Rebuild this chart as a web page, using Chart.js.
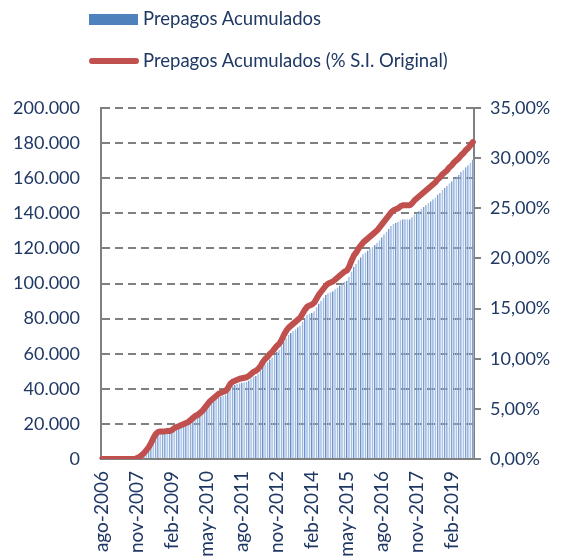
<!DOCTYPE html>
<html>
<head>
<meta charset="utf-8">
<script src="https://cdn.jsdelivr.net/npm/chart.js@4.4.1/dist/chart.umd.min.js"></script>
<style>
html,body{margin:0;padding:0;background:#fff;}
#wrap{position:relative;width:561px;height:559px;}
canvas{position:absolute;left:0;top:0;}
.leg{position:absolute;left:0;font-family:Lato,"Open Sans",sans-serif;font-size:18.5px;color:#1F3864;white-space:nowrap;}
.sw{position:absolute;}
</style>
</head>
<body>
<div id="wrap">
<canvas id="c" width="561" height="559"></canvas>
<div class="sw" style="left:89px;top:14px;width:49px;height:11px;background:#4F81BD;"></div>
<div class="leg" style="left:143px;top:7px;">Prepagos Acumulados</div>
<div class="sw" style="left:89px;top:58px;width:50px;height:6px;background:#C0504D;border-radius:3px;"></div>
<div class="leg" style="left:143px;top:49px;">Prepagos Acumulados (% S.I. Original)</div>
</div>
<script>
const monthNames = ["ene","feb","mar","abr","may","jun","jul","ago","sep","oct","nov","dic"];
const startYear = 2006;
const startMonth = 7; // ago
const numMonths = 160;

const prepagosAcumulados = [
0,0,0,0,0,0,0,0,0,0,
0,0,0,0,0,500,1100,2200,3200,4900,
6500,8600,11300,13500,14600,14900,14900,14900,15100,15100,
15700,16700,17300,17800,18400,18900,19400,20000,21100,22100,
23200,23800,24800,25900,27500,29200,30800,31900,32900,34000,
35100,35600,36200,36700,38300,40500,41600,42100,42700,43200,
43500,43700,44000,44800,45900,47000,47500,48600,50200,52400,
54000,55100,56700,57800,59400,61000,62100,64300,67000,69100,
70700,71800,72900,74000,75100,76100,78300,80500,82100,82600,
83200,84200,86400,88600,90200,91800,93400,94500,95000,95600,
96700,97700,98800,99900,101000,101500,103700,106900,109600,111200,
113400,115000,116600,117700,118800,119900,121000,122000,123100,124700,
126400,128000,129600,131200,132800,133900,134500,135000,136100,136600,
136600,136600,136600,137700,139300,140400,141500,142600,143600,144700,
145800,146900,148000,149000,150700,151700,153400,154400,155500,157100,
158200,159800,160900,162000,163600,164700,166300,167400,169000,170600
];

const prepagosPctSI = [
0,0,0,0,0,0,0,0,0,0,
0,0,0,0,0,0.1,0.2,0.4,0.6,0.9,
1.2,1.6,2.1,2.5,2.7,2.75,2.75,2.75,2.8,2.8,
2.9,3.1,3.2,3.3,3.4,3.5,3.6,3.7,3.9,4.1,
4.3,4.4,4.6,4.8,5.1,5.4,5.7,5.9,6.1,6.3,
6.5,6.6,6.7,6.8,7.1,7.5,7.7,7.8,7.9,8.0,
8.05,8.1,8.15,8.3,8.5,8.7,8.8,9.0,9.3,9.7,
10.0,10.2,10.5,10.7,11.0,11.3,11.5,11.9,12.4,12.8,
13.1,13.3,13.5,13.7,13.9,14.1,14.5,14.9,15.2,15.3,
15.4,15.6,16.0,16.4,16.7,17.0,17.3,17.5,17.6,17.7,
17.9,18.1,18.3,18.5,18.7,18.8,19.2,19.8,20.3,20.6,
21.0,21.3,21.6,21.8,22.0,22.2,22.4,22.6,22.8,23.1,
23.4,23.7,24.0,24.3,24.6,24.8,24.9,25.0,25.2,25.3,
25.3,25.3,25.3,25.5,25.8,26.0,26.2,26.4,26.6,26.8,
27.0,27.2,27.4,27.6,27.9,28.1,28.4,28.6,28.8,29.1,
29.3,29.6,29.8,30.0,30.3,30.5,30.8,31.0,31.3,31.6
];

const labels = [];
for (let i = 0; i < numMonths; i++) {
  const k = startMonth + i;
  labels.push(monthNames[k % 12] + "-" + (startYear + Math.floor(k / 12)));
}
const labelEvery = 15;

const leftTicks = [0,20000,40000,60000,80000,100000,120000,140000,160000,180000,200000];
const rightTicks = [0,5,10,15,20,25,30,35];

const textColor = "#1F3864";
const gridColor = "#808080";
const font = {family: "Lato, 'Open Sans', sans-serif", size: 18};
const xFont = {family: "Lato, 'Open Sans', sans-serif", size: 19};

function fmtThousands(v){
  return String(Math.round(v)).replace(/\B(?=(\d{3})+(?!\d))/g, ".");
}

new Chart(document.getElementById("c"), {
  data: {
    labels: labels,
    datasets: [
      {
        type: "line",
        label: "Prepagos Acumulados (% S.I. Original)",
        data: prepagosPctSI,
        yAxisID: "y1",
        borderColor: "#C0504D",
        borderWidth: 6,
        pointRadius: 0,
        borderCapStyle: "round",
        borderJoinStyle: "round",
        tension: 0,
        order: 1
      },
      {
        type: "bar",
        label: "Prepagos Acumulados",
        data: prepagosAcumulados,
        yAxisID: "y",
        backgroundColor: "#B4CAEA",
        borderColor: "#5B87C4",
        borderWidth: {left: 1, right: 0, top: 0, bottom: 0},
        borderSkipped: false,
        barPercentage: 0.8,
        categoryPercentage: 1.0,
        order: 2
      }
    ]
  },
  options: {
    responsive: false,
    animation: false,
    devicePixelRatio: 1,
    layout: {padding: {top: 108, left: 0, right: 0, bottom: 0}},
    plugins: {legend: {display: false}, tooltip: {enabled: false}},
    scales: {
      x: {
        grid: {display: false, drawTicks: false},
        border: {display: true, color: gridColor, width: 2},
        ticks: {
          autoSkip: false,
          maxRotation: 90,
          minRotation: 90,
          padding: 12,
          color: textColor,
          font: xFont,
          callback: function(v, i){ return i % labelEvery === 0 ? labels[i] : ""; }
        },
        afterFit: function(s){ s.height = 100; }
      },
      y: {
        position: "left",
        min: 0, max: 200000,
        afterBuildTicks: function(s){ s.ticks = leftTicks.map(v => ({value: v})); },
        grid: {color: gridColor, lineWidth: 2, drawTicks: false},
        border: {display: true, color: gridColor, width: 2, dash: [8,5]},
        ticks: {
          padding: 21,
          color: textColor,
          font: font,
          callback: function(v){ return fmtThousands(v); }
        },
        afterFit: function(s){ s.width = 101; }
      },
      y1: {
        position: "right",
        min: 0, max: 35,
        afterBuildTicks: function(s){ s.ticks = rightTicks.map(v => ({value: v})); },
        grid: {drawOnChartArea: false, color: gridColor, lineWidth: 2, tickLength: 7},
        border: {display: true, color: gridColor, width: 2},
        ticks: {
          padding: 9,
          color: textColor,
          font: font,
          callback: function(v){ return v.toFixed(2).replace(".", ",") + "%"; }
        },
        afterFit: function(s){ s.width = 87; }
      }
    }
  }
});
</script>
</body>
</html>
